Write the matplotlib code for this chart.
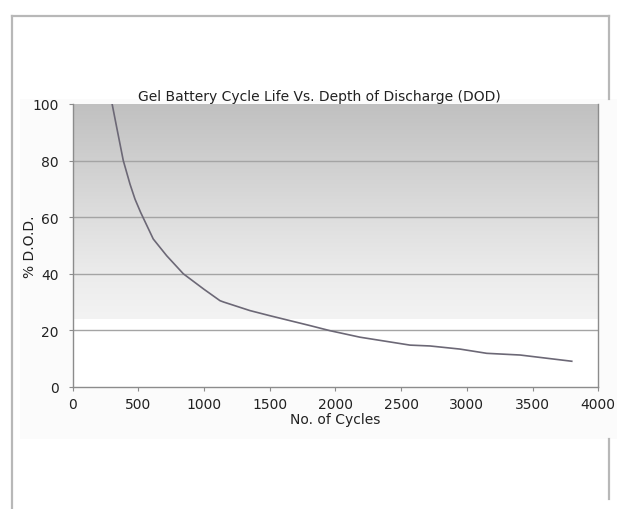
"""Gel battery cycle life vs depth of discharge, redrawn with matplotlib."""

import matplotlib

matplotlib.use("Agg")
import matplotlib.pyplot as plt  # noqa: E402
import numpy as np  # noqa: E402
from matplotlib.colors import LinearSegmentedColormap  # noqa: E402
from matplotlib.lines import Line2D  # noqa: E402
from matplotlib.patches import Rectangle  # noqa: E402

# values
cycles = [300, 335, 385, 436, 474, 517, 613, 715, 842, 1000, 1121, 1150,
          1349, 1500, 1806, 1958, 2186, 2567, 2719, 2947, 3151, 3405, 3798]
dod = [100, 91.7, 80, 71.7, 66.4, 61.7, 52.3, 46.4, 40, 34.5, 30.5, 30,
       27, 25.2, 21.7, 19.9, 17.6, 14.8, 14.5, 13.4, 11.9, 11.3, 9.1]
x_ticks = [0, 500, 1000, 1500, 2000, 2500, 3000, 3500, 4000]
y_ticks = [0, 20, 40, 60, 80, 100]
title = "Gel Battery Cycle Life Vs. Depth of Discharge (DOD)"

W, H = 617, 510
fig = plt.figure(figsize=(W / 100, H / 100), dpi=100)
fig.patch.set_facecolor("white")


def px(x, y):
    """Pixel position (from top-left) to figure fraction."""
    return x / W, 1 - y / H


# outer grey frame of the page
frame_kw = dict(color="#b8b8b8", lw=1.6, transform=fig.transFigure)
fig.add_artist(Line2D(*zip(px(12, 17), px(609, 17)), **frame_kw))
fig.add_artist(Line2D(*zip(px(12, 17), px(12, 510)), **frame_kw))
fig.add_artist(Line2D(*zip(px(609, 17), px(609, 100)), **frame_kw))
fig.add_artist(Line2D(*zip(px(609, 440), px(609, 500)), **frame_kw))

# chart picture box
x0, y0 = px(20, 440)
fig.add_artist(Rectangle((x0, y0), (617 - 20) / W, 340 / H, transform=fig.transFigure,
                         facecolor="#fbfbfb", edgecolor="none", zorder=0))

l, b = px(72.7, 388)
r, t = px(598.3, 105)
ax = fig.add_axes([l, b, r - l, t - b])
ax.set_facecolor("white")
ax.set_xlim(0, 4000)
ax.set_ylim(0, 100)

# grey gradient band from the top down to ~24 %
cmap = LinearSegmentedColormap.from_list(
    "bg", [(0.0, "#f3f3f3"), (0.2, "#ececec"), (0.5, "#dcdcdc"), (0.75, "#cecece"), (1.0, "#c0c0c0")]
)
grad = np.linspace(0, 1, 256).reshape(-1, 1)
ax.imshow(grad, extent=[0, 4000, 24, 100], origin="lower", aspect="auto", cmap=cmap, zorder=0)

for yv in y_ticks[1:-1]:
    ax.axhline(yv, color="#a4a4a4", lw=1.0, zorder=1)

ax.plot(cycles, dod, color="#6c6876", lw=1.2, zorder=3)

for side in ("left", "bottom", "right"):
    ax.spines[side].set_color("#8c8c8c")
    ax.spines[side].set_linewidth(1.0)
ax.spines["top"].set_visible(False)

ax.set_xticks(x_ticks)
ax.set_yticks(y_ticks)
ax.tick_params(axis="both", colors="#8c8c8c", labelcolor="#222222", labelsize=10,
               length=3, width=0.8)
ax.tick_params(axis="x", pad=4)
ax.tick_params(axis="y", pad=7)

ax.set_title(title, fontsize=10, color="#222222", pad=3, x=0.47)
ax.set_xlabel("No. of Cycles", fontsize=10, color="#222222", labelpad=1)
ax.set_ylabel("% D.O.D.", fontsize=10, color="#222222", labelpad=-3)

fig.savefig("out.png", dpi=100)
